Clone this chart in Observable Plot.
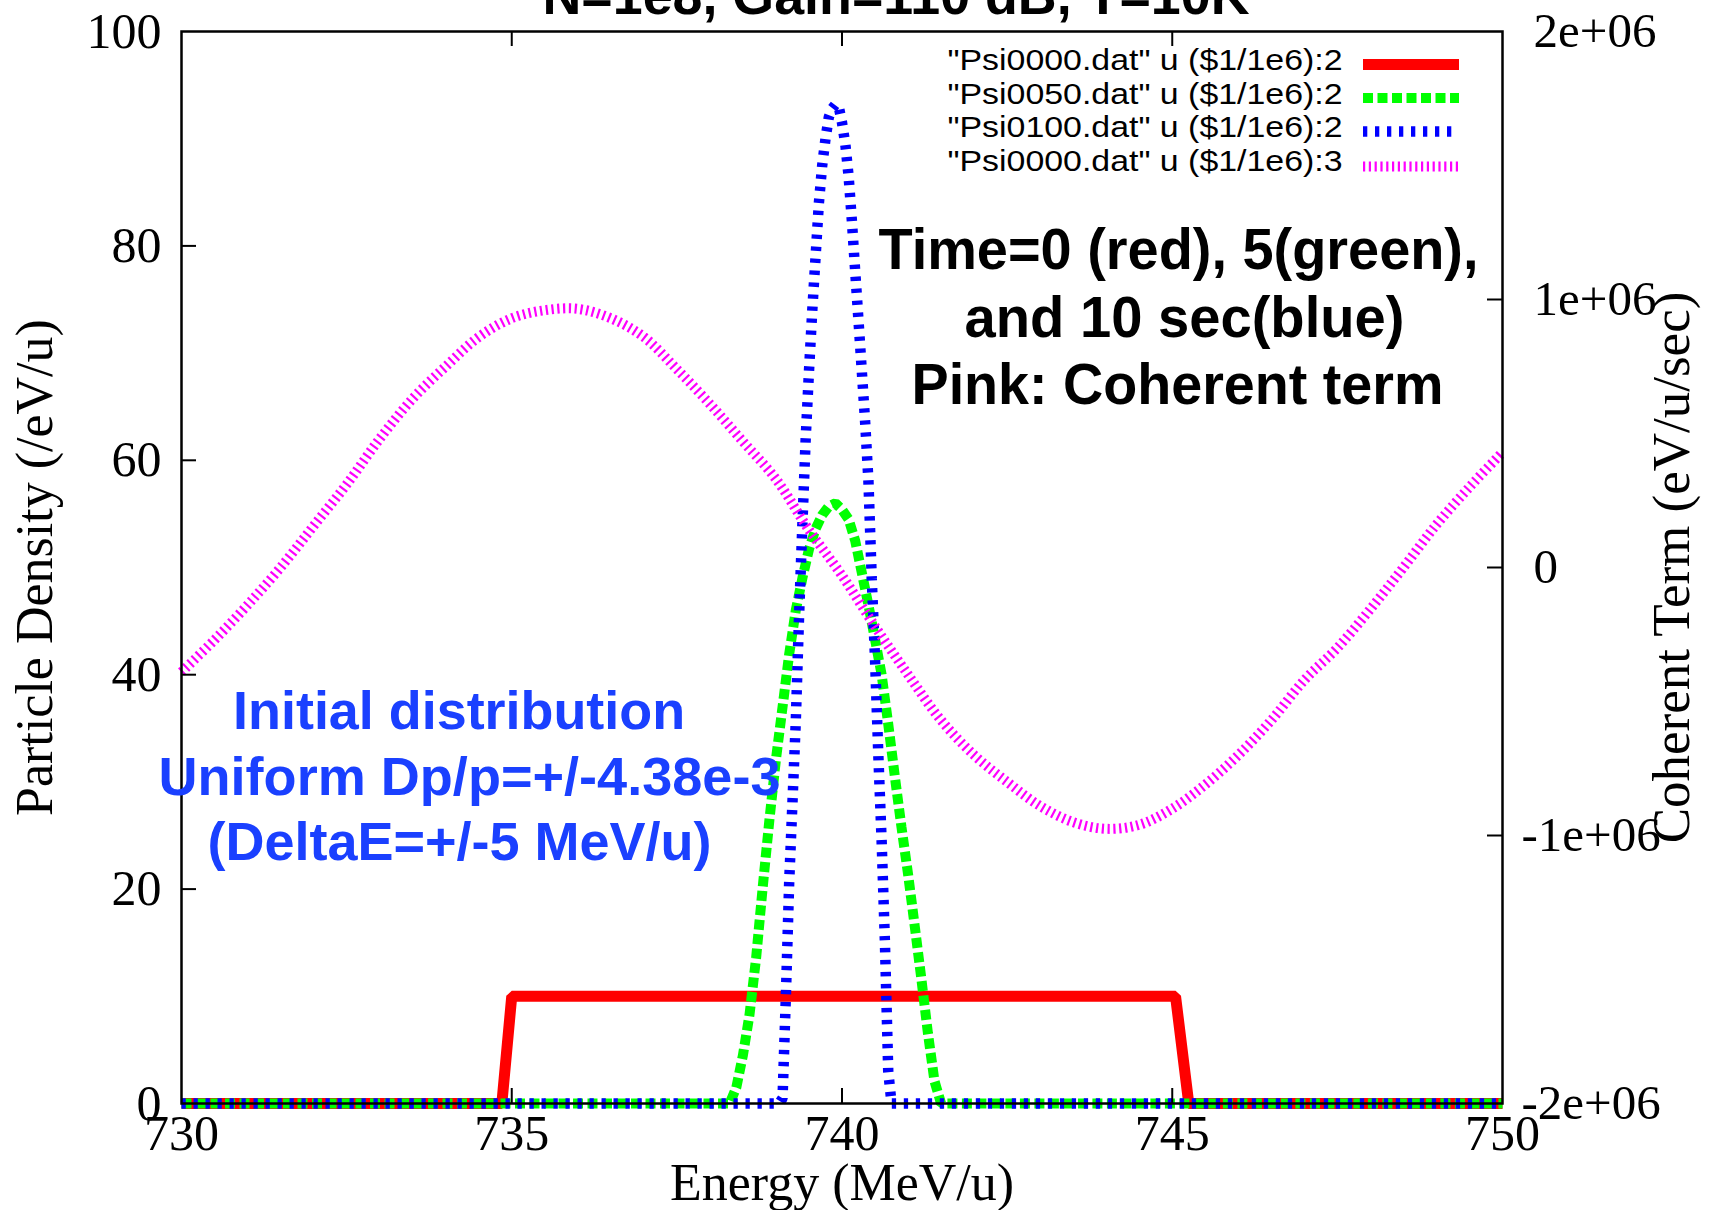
<!DOCTYPE html>
<html><head><meta charset="utf-8">
<script src="https://cdn.jsdelivr.net/npm/d3@7"></script>
<script src="https://cdn.jsdelivr.net/npm/@observablehq/plot@0.6"></script>
<style>html,body{margin:0;padding:0;background:#fff;overflow:hidden}</style>
</head><body><div id="chart"></div>
<script>
// ---------- texts ----------
const title = "N=1e8, Gain=110 dB, T=10K";
const xLabel = "Energy (MeV/u)";
const yLabel = "Particle Density (/eV/u)";
const y2Label = "Coherent Term (eV/u/sec)";
const legendLabels = [
  '"Psi0000.dat" u ($1/1e6):2',
  '"Psi0050.dat" u ($1/1e6):2',
  '"Psi0100.dat" u ($1/1e6):2',
  '"Psi0000.dat" u ($1/1e6):3'
];
const noteBlack = ["Time=0 (red), 5(green),", "and 10 sec(blue)", "Pink: Coherent term"];
const noteBlue = ["Initial distribution", "Uniform Dp/p=+/-4.38e-3", "(DeltaE=+/-5 MeV/u)"];

// ---------- axes ----------
const xDomain = [730, 750];
const yDomain = [0, 100];
const y2Domain = [-2e6, 2e6];
const xTicks = [730, 735, 740, 745, 750];
const yTicks = [0, 20, 40, 60, 80, 100];
const y2Ticks = [-2e6, -1e6, 0, 1e6, 2e6];
const y2TickLabels = ["-2e+06", "-1e+06", "0", "1e+06", "2e+06"];

// ---------- data ----------
// Psi0000.dat column 2 (time 0)
const redE = [730, 734.85, 735.0, 745.05, 745.25, 750];
const redD = [0, 0, 10, 10, 0, 0];
// Psi0050.dat column 2 (time 5 s)
const greenE = [730, 738.3, 738.4, 738.5, 738.6, 738.7, 738.8, 738.9, 739.0, 739.1, 739.2, 739.3, 739.4, 739.5, 739.6, 739.7, 739.8, 739.9,
  740.0, 740.1, 740.2, 740.3, 740.4, 740.5, 740.6, 740.7, 740.8, 740.9, 741.0, 741.1, 741.2, 741.3, 741.4, 741.5, 750];
const greenD = [0, 0, 1.5, 4.5, 8.3, 13.6, 20.2, 26.4, 32.1, 37, 41.9, 46, 49, 51.7, 53.6, 54.9, 55.7, 56,
  55.4, 54.5, 52.5, 49.5, 46.5, 43.3, 40, 35.4, 30.5, 25.8, 21.4, 16.6, 11.7, 6.6, 2.1, 0, 0];
// Psi0100.dat column 2 (time 10 s)
const blueE = [730, 739.05, 739.10, 739.15, 739.20, 739.25, 739.30, 739.35, 739.40, 739.45, 739.50, 739.55, 739.60, 739.65, 739.70,
  739.75, 739.80, 739.85, 739.90, 739.95, 740.00, 740.05, 740.10, 740.15, 740.20, 740.25, 740.30, 740.35, 740.40,
  740.45, 740.50, 740.55, 740.60, 740.65, 740.70, 740.75, 750];
const blueD = [0, 0, 0.5, 10, 20.6, 28.1, 35.6, 45.5, 54, 62, 68.3, 74, 79, 84, 87.5,
  90, 92, 92.8, 93.2, 93, 91.5, 89.5, 86.5, 82.3, 77.6, 73, 68.3, 63.6, 58.1,
  49, 41.5, 32.5, 24.5, 15, 3, 0, 0];
// Psi0000.dat column 3: coherent term (eV/u/sec), right axis
const pinkE = [730, 730.5, 731, 731.5, 732, 732.5, 733, 733.5, 734, 734.5, 735, 735.5, 736, 736.5, 737, 737.5, 738, 738.5, 739, 739.5,
  740, 740.5, 741, 741.5, 742, 742.5, 743, 743.5, 744, 744.5, 745, 745.5, 746, 746.5, 747, 747.5, 748, 748.5, 749, 749.5, 750];
const pinkV = [-3.9e5, -2.7e5, -1.4e5, 0, 1.55e5, 3.1e5, 4.8e5, 6.3e5, 7.5e5, 8.6e5, 9.3e5, 9.6e5, 9.65e5, 9.3e5, 8.6e5, 7.4e5, 6.1e5, 4.7e5, 3.3e5, 1.4e5,
  -0.3e5, -2.2e5, -4.0e5, -5.7e5, -7.0e5, -8.0e5, -8.9e5, -9.5e5, -9.75e5, -9.6e5, -9.0e5, -8.1e5, -7.0e5, -5.7e5, -4.2e5, -3.0e5, -1.55e5, 0, 1.6e5, 3.0e5, 4.3e5];

// ---------- build ----------
const width = 1710, height = 1210;
const mL = 181, mR = 208, mT = 31, mB = 107;
const W = width - mL - mR, H = height - mT - mB;
const serif = "Liberation Serif, Times New Roman, serif";
const sans = "Liberation Sans, Arial, Helvetica, sans-serif";
const toLeft = d3.scaleLinear().domain(y2Domain).range(yDomain);

const rows = (E, D) => E.map((e, i) => ({e, v: D[i]}));
const red = rows(redE, redD), green = rows(greenE, greenD), blue = rows(blueE, blueD), pink = rows(pinkE, pinkV);

const sRed = {stroke: "#ff0000", strokeWidth: 11, strokeLinejoin: "miter", strokeLinecap: "butt"};
const sGreen = {stroke: "#00ff00", strokeWidth: 10, strokeDasharray: "10,4.5", strokeLinecap: "butt", strokeLinejoin: "miter"};
const sBlue = {stroke: "#0000ff", strokeWidth: 10.5, strokeDasharray: "4.3,7.7", strokeLinecap: "butt", strokeLinejoin: "miter"};
const sPink = {stroke: "#ff00ff", strokeWidth: 10, strokeDasharray: "2.2,3.6", strokeLinecap: "butt"};
const styles = [sRed, sGreen, sBlue, sPink];

const txt = (s, o) => Plot.text([s], {text: d => d, ...o});

const legendBase = [69.5, 103, 136.5, 170];
const legendMid = [64, 97.5, 131, 166];
const blackX = [1178, 1184, 1177], blackBase = [268.5, 336, 403.5];
const blueX = [458.6, 469, 459], blueBase = [728.5, 794, 859];

const marks = [
  Plot.line(red, {x: "e", y: "v", ...sRed}),
  Plot.line(green, {x: "e", y: "v", ...sGreen}),
  Plot.line(blue, {x: "e", y: "v", ...sBlue}),
  Plot.line(pink, {x: "e", y: d => toLeft(d.v), curve: "catmull-rom", ...sPink}),
  Plot.frame({stroke: "black", strokeWidth: 2.5}),
  // inward ticks
  Plot.tickX(xTicks.slice(1, -1), {x: d => d, insetTop: H - 15, stroke: "black", strokeWidth: 2}),
  Plot.tickX(xTicks.slice(1, -1), {x: d => d, insetBottom: H - 15, stroke: "black", strokeWidth: 2}),
  Plot.tickY(yTicks.slice(1, -1), {y: d => d, insetRight: W - 15, stroke: "black", strokeWidth: 2}),
  Plot.tickY(y2Ticks.slice(1, -1), {y: d => toLeft(d), insetLeft: W - 15, stroke: "black", strokeWidth: 2}),
  // tick labels
  Plot.text(xTicks, {x: d => d, text: d => String(d), frameAnchor: "bottom", dy: 30, textAnchor: "middle", lineAnchor: "middle", fontFamily: serif, fontSize: 50}),
  Plot.text(yTicks, {y: d => d, text: d => String(d), frameAnchor: "left", dx: -20, textAnchor: "end", lineAnchor: "middle", fontFamily: serif, fontSize: 50}),
  Plot.text(y2Ticks.map((v, i) => ({v, s: y2TickLabels[i]})).filter(d => d.v >= 0),
    {y: d => toLeft(d.v), text: "s", frameAnchor: "right", dx: 31, textAnchor: "start", lineAnchor: "middle", fontFamily: serif, fontSize: 49}),
  Plot.text(y2Ticks.map((v, i) => ({v, s: y2TickLabels[i]})).filter(d => d.v < 0),
    {y: d => toLeft(d.v), text: "s", frameAnchor: "right", dx: 19, textAnchor: "start", lineAnchor: "middle", fontFamily: serif, fontSize: 49}),
  // axis titles
  txt(xLabel, {frameAnchor: "bottom", dy: 96, textAnchor: "middle", lineAnchor: "bottom", fontFamily: serif, fontSize: 52}),
  txt(yLabel, {frameAnchor: "left", dx: -146, rotate: -90, textAnchor: "middle", lineAnchor: "middle", fontFamily: serif, fontSize: 52}),
  txt(y2Label, {frameAnchor: "right", dx: 170, rotate: -90, textAnchor: "middle", lineAnchor: "middle", fontFamily: serif, fontSize: 53}),
  // title (partly outside the top of the picture)
  txt(title, {frameAnchor: "top-left", dx: 895.5 - mL, dy: 13 - mT, textAnchor: "middle", lineAnchor: "bottom", fontFamily: sans, fontWeight: "bold", fontSize: 54}),
  // legend
  ...legendLabels.map((s, i) => txt(s, {frameAnchor: "top-left", dx: 1342 - mL, dy: legendBase[i] - mT, textAnchor: "end", lineAnchor: "bottom", fontFamily: sans, fontSize: 29})),
  ...legendLabels.map((s, i) => Plot.tickY([yDomain[1]], {y: d => d, dy: legendMid[i] - mT, insetLeft: 1363 - mL, insetRight: mL + W - 1459, ...styles[i]})),
  // annotations
  ...noteBlack.map((s, i) => txt(s, {frameAnchor: "top-left", dx: blackX[i] - mL, dy: blackBase[i] - mT, textAnchor: "middle", lineAnchor: "bottom", fontFamily: sans, fontWeight: "bold", fontSize: 58, fill: "black"})),
  ...noteBlue.map((s, i) => txt(s, {frameAnchor: "top-left", dx: blueX[i] - mL, dy: blueBase[i] - mT, textAnchor: "middle", lineAnchor: "bottom", fontFamily: sans, fontWeight: "bold", fontSize: 54, fill: "#1a40ff"}))
];

const svg = Plot.plot({
  width, height,
  marginLeft: mL, marginRight: mR, marginTop: mT, marginBottom: mB,
  x: {domain: xDomain, axis: null},
  y: {domain: yDomain, axis: null},
  style: {background: "white", overflow: "visible"},
  marks
});

// stretch/condense some texts to the widths they have in the reference
const fitWidths = new Map([
  [title, 707],
  ...legendLabels.map(s => [s, 395]),
  ...noteBlack.map((s, i) => [s, [600, 440, 532][i]]),
  ...noteBlue.map((s, i) => [s, [452, 622, 504][i]])
]);
svg.querySelectorAll("text").forEach(t => {
  const w = fitWidths.get(t.textContent);
  if (w) {
    t.setAttribute("textLength", w);
    t.setAttribute("lengthAdjust", "spacingAndGlyphs");
  }
});

document.getElementById("chart").appendChild(svg);
</script>
</body></html>
